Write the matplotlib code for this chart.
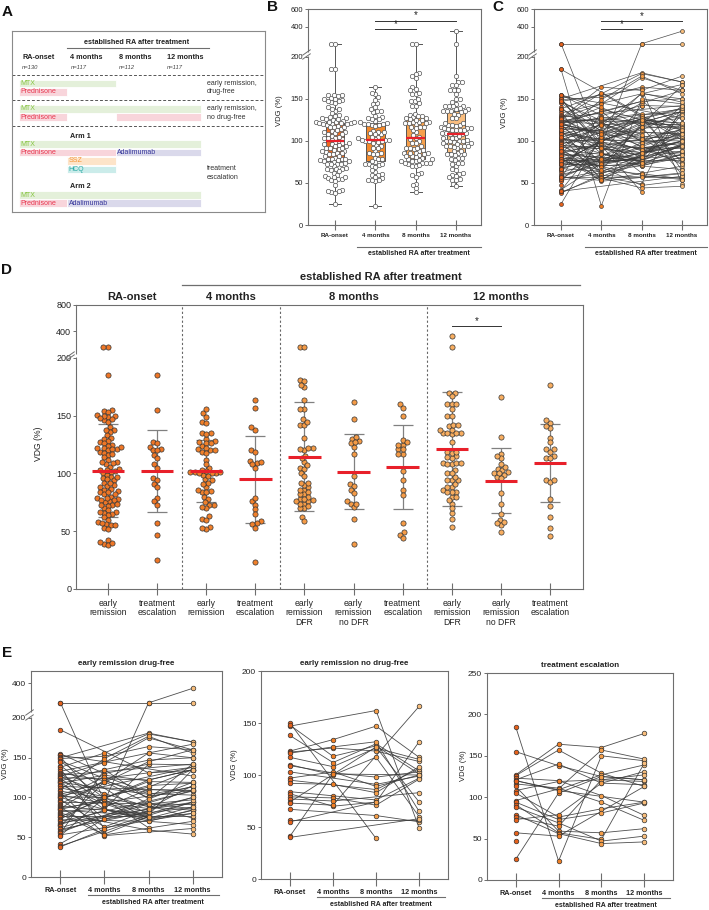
import numpy as np
import matplotlib
matplotlib.use("Agg")
import matplotlib.pyplot as plt

plt.rcParams['font.family'] = ['Liberation Sans', 'DejaVu Sans']
nan = np.nan
W, H = 709, 910

TIMES = ["RA-onset", "4 months", "8 months", "12 months"]
N_AT = ["n=130", "n=117", "n=112", "n=117"]

# VDG (%) per patient (same index = same patient), nan = not measured
# early remission, drug-free (DFR)
DFR_T0 = [270, 270, 185, 155, 154, 153, 151, 150, 149, 146, 145, 140, 138, 136, 133, 131, 130, 128, 127, 126,
          125, 124, 122, 121, 120, 119, 118, 116, 114, 112, 110, 108, 106, 104, 103, 102, 101, 100, 99, 97,
          96, 94, 92, 90, 89, 88, 87, 86, 85, 84, 82, 80, 79, 78, 77, 76, 75, 73, 72, 70,
          68, 67, 66, 65, 64, 62, 60, 58, 56, 55, 53, 52, 42, 39, 38]
DFR_T4 = [95, nan, nan, 130, nan, 145, 88, nan, 152, 124, nan, 99, 156, 61, nan, 121, 94, nan, 144, 105,
          nan, 85, nan, 135, 73, nan, 128, 92, nan, 101, 149, nan, 54, 119, nan, nan, 100, nan, 126, 63,
          nan, nan, 120, nan, 84, 52, nan, 122, 98, nan, 86, nan, 53, nan, nan, nan, nan, 101, nan, nan,
          nan, nan, 84, nan, 120, nan, nan, nan, nan, 135, nan, 100, 73, nan, 60]
DFR_T8 = [270, 270, 131, 142, nan, nan, 110, 181, 164, nan, 78, 120, 180, nan, 156, 105, 86, nan, 175, 88,
          122, 142, nan, 147, nan, 104, 121, 74, nan, 113, 177, 90, 76, 145, 82, nan, 115, 70, 107, 84,
          nan, nan, 92, nan, 80, nan, nan, 100, 62, 77, 72, 59, nan, nan, nan, 122, nan, nan, 70, nan,
          nan, nan, 78, nan, 156, nan, 82, 92, nan, 98, nan, 74, 86, 76, nan]
DFR_T12 = [360, 270, 134, 141, nan, 127, 109, 170, 160, 138, nan, 119, 170, 94, 167, 103, 115, 142, 160, 84,
           135, nan, nan, 150, 88, 113, nan, 80, 108, 135, 156, 74, nan, 160, nan, 138, 118, 66, nan, 100,
           nan, 91, 86, nan, 94, 61, 109, 114, nan, nan, 84, 54, 70, nan, 77, 135, nan, nan, 84, 108,
           94, nan, 135, nan, 150, 109, nan, 97, 119, 142, 80, 88, 100, nan, nan]

# early remission, no drug-free remission
NODFR_T0 = [147, 150, 148, 138, 123, 122, 121, 117, 110, 109, 103, 97, 95, 92, 84, 82, 79, 77, 74, 73,
            67, 57, 55, 41, 40]
NODFR_T4 = [nan, nan, 118, 112, 134, 126, 127, 108, 100, 102, nan, 103, nan, 91, 80, 70, 78, 75, nan, 71,
            nan, nan, nan, 101, nan]
NODFR_T8 = [162, 39, 128, 130, 147, 123, 132, 126, 117, 98, 91, 89, 86, 83, 76, 74, 71, nan, 127, nan,
            61, nan, 74, nan, nan]
NODFR_T12 = [49, nan, 101, 104, 117, 113, 65, 115, 60, 103, 99, 100, 106, 108, 97, 132, 96, 83, 74, 166,
             55, 57, nan, 100, 58]

# treatment escalation
ESC_T0 = [185, 155, 127, 126, 123, 121, 120, 116, 113, 108, 105, 96, 94, 91, 88, 79, 76, 73, 57, 47, 25, 120]
ESC_T4 = [23, 138, 164, 157, 120, 140, 109, 111, 59, 119, 76, 110, 73, 57, 69, 56, 65, 79, 53, nan, 105, 108]
ESC_T8 = [150, 125, 160, 129, 102, 117, 127, 94, 57, 121, 86, 157, 81, 49, 47, 44, 121, 117, nan, nan, 125, nan]
ESC_T12 = [144, 121, 177, 113, 78, 131, 139, 72, 62, 127, 94, 146, 93, 141, 53, 46, 119, 115, 113, nan, 121, 94]

D_LABELS = ["early\nremission", "treatment\nescalation", "early\nremission", "treatment\nescalation",
            "early\nremission\nDFR", "early\nremission\nno DFR", "treatment\nescalation",
            "early\nremission\nDFR", "early\nremission\nno DFR", "treatment\nescalation"]

# panel A: treatment schedule (drug, start month, end month); 15 = end of follow-up
A_SECTIONS = [
    ("early remission,\ndrug-free", None, [[("MTX", 0, 8)], [("Prednisone", 0, 4)]]),
    ("early remission,\nno drug-free", None, [[("MTX", 0, 15)], [("Prednisone", 0, 4), ("", 8, 15)]]),
    ("treatment\nescalation", "Arm 1", [[("MTX", 0, 15)], [("Prednisone", 0, 8), ("Adalimumab", 8, 15)],
                                       [("SSZ", 4, 8)], [("HCQ", 4, 8)]]),
    (None, "Arm 2", [[("MTX", 0, 15)], [("Prednisone", 0, 4), ("Adalimumab", 4, 15)]]),
]
DRUG_COL = {"MTX": ("#e4f0da", "#86c440"), "Prednisone": ("#f8d5db", "#e8354e"),
            "Adalimumab": ("#dad9eb", "#35359a"), "SSZ": ("#fde4c9", "#f3963a"),
            "HCQ": ("#cbecea", "#26a8a2")}

GREY = "#6e6e6e"
RED = "#e8202a"
PT_COL = ["#e6611b", "#f07f25", "#f59e49", "#f8bd7b"]
D_COL = ["#ee7626", "#f0802b", "#f49b47", "#f7ad60"]
BOX_COL = ["#ec6a20", "#f48a2c", "#f6a04b", "#f9bd7e"]

DFR = np.array([DFR_T0, DFR_T4, DFR_T8, DFR_T12], float).T
NODFR = np.array([NODFR_T0, NODFR_T4, NODFR_T8, NODFR_T12], float).T
ESC = np.array([ESC_T0, ESC_T4, ESC_T8, ESC_T12], float).T
ALL = np.vstack([DFR, NODFR, ESC])

fig = plt.figure(figsize=(W / 100, H / 100), dpi=100)


def px_axes(l, t, r, b):
    return fig.add_axes([l / W, 1 - b / H, (r - l) / W, (b - t) / H])


def broken(k):
    # linear up to 200, compressed log segment above the axis break
    def fwd(y):
        y = np.asarray(y, float)
        return np.where(y <= 200, y, 200 + k * np.log10(np.maximum(y, 200) / 200))

    def inv(u):
        u = np.asarray(u, float)
        return np.where(u <= 200, u, 200 * 10 ** ((np.maximum(u, 200) - 200) / k))
    return fwd, inv


def style(ax, yfs, xlen=7, xpad=2):
    for s in ax.spines.values():
        s.set_color(GREY)
        s.set_linewidth(0.8)
    ax.tick_params(axis='y', direction='out', length=2.5, width=0.7, color=GREY, labelsize=yfs, pad=1,
                   labelcolor="#222")
    ax.tick_params(axis='x', direction='inout', length=xlen, width=0.8, color=GREY, pad=xpad,
                   labelcolor="#222")


def add_break(ax, y0, y1):
    tr = ax.get_yaxis_transform()
    ax.plot([0, 0], [y0, y1], color='white', lw=2.5, transform=tr, clip_on=False, zorder=10,
            solid_capstyle='butt')
    ax.plot([-0.012, -0.012], [y0, y1], ls='none', marker=[(-1, -0.7), (1, 0.7)], ms=6, mfc='none',
            mec=GREY, mew=0.7, transform=tr, clip_on=False, zorder=11)


def swarm(ax, x0, vals, d):
    vals = np.asarray(vals, float)
    vals = vals[~np.isnan(vals)]
    ys = ax.transData.transform(np.column_stack([np.full(len(vals), x0), vals]))[:, 1]
    ppu = ax.transData.transform([(1, 0)])[0][0] - ax.transData.transform([(0, 0)])[0][0]
    placed, off = [], np.zeros(len(vals))
    for i in np.argsort(ys):
        bad = []
        for dx, py in placed:
            dy = abs(py - ys[i])
            if dy < d:
                h = np.sqrt(d * d - dy * dy)
                bad.append((dx - h, dx + h))
        cands = sorted([0.0] + [b for iv in bad for b in iv], key=lambda c: (abs(c), c))
        for c in cands:
            if all(not (lo + 1e-6 < c < hi - 1e-6) for lo, hi in bad):
                break
        placed.append((c, ys[i]))
        off[i] = c
    return x0 + off / ppu, vals


def underline(ax, x0, x1, yl, yt, fs):
    tr = ax.get_xaxis_transform()
    ax.plot([x0, x1], [yl, yl], color=GREY, lw=0.8, transform=tr, clip_on=False)
    ax.text((x0 + x1) / 2, yt, "established RA after treatment", transform=tr, ha='center', va='center',
            fontsize=fs, fontweight='bold', color="#222")


def sig(ax, x0, x1, y, fs=7):
    ax.plot([x0, x1], [y, y], color="#333", lw=0.7, clip_on=False)
    ax.annotate("*", ((x0 + x1) / 2, y), xytext=(0, 0), textcoords='offset points', ha='center',
                va='bottom', fontsize=fs, color="#222")


# ---------------- A: schedule ----------------
axA = px_axes(12, 31, 265, 212)
axA.set_xlim(-0.58, 20.33)
axA.set_ylim(212, 31)
axA.set_xticks([])
axA.set_yticks([])
for s in axA.spines.values():
    s.set_color("#8a8a8a")
    s.set_linewidth(0.8)
axA.text(9.75, 42, "established RA after treatment", ha='center', va='center', fontsize=5.2,
         fontweight='bold', color="#222")
axA.plot([4.0, 15.7], [48, 48], color=GREY, lw=0.8)
for m, lab, n in zip([0, 4, 8, 12], TIMES, N_AT):
    axA.text(m + 0.25, 57, lab, ha='left', va='center', fontsize=5.2, fontweight='bold', color="#222")
    axA.text(m + 0.25, 67, n, ha='left', va='center', fontsize=4.2, style='italic', color="#444")
for y in (75, 100, 126):
    axA.axhline(y, ls=(0, (3, 2)), color="#555", lw=0.7)
row_y = [[83.5, 91.8], [108.8, 117.2], [144.3, 152.5, 161.0, 169.5], [195.2, 203.3]]
side_y = [87.5, 113, 173, None]
arm_y = [None, None, 136, 187]
for (side, arm, rows), ys, sy, ay in zip(A_SECTIONS, row_y, side_y, arm_y):
    last = ""
    for segs, y in zip(rows, ys):
        for drug, a, b in segs:
            name = drug or last
            fc, tc = DRUG_COL[name]
            axA.barh(y, b - a, left=a, height=7.8, color=fc, edgecolor='white', lw=0.6)
            if drug:
                axA.text(a + 0.12, y, drug, ha='left', va='center', fontsize=5, color=tc)
            last = name
    if side:
        axA.text(15.55, sy, side, ha='left', va='center', fontsize=5, color="#333", linespacing=1.25)
    if arm:
        axA.text(4.25, ay, arm, ha='left', va='center', fontsize=5.2, fontweight='bold', color="#222")

# ---------------- B: box + swarm ----------------
axB = px_axes(308, 9, 481, 225)
fB, iB = broken(119)
axB.set_yscale('function', functions=(fB, iB))
axB.set_ylim(0, 600)
axB.set_xlim(-0.67, 3.62)
style(axB, 5.5)
for t in range(4):
    v = ALL[:, t]
    v = v[~np.isnan(v)]
    bp = axB.boxplot([v], positions=[t], widths=0.47, whis=(0, 100), showfliers=False, patch_artist=True,
                     capwidths=0.3, zorder=1, manage_ticks=False,
                     boxprops=dict(facecolor=BOX_COL[t], edgecolor="#555", lw=0.7),
                     whiskerprops=dict(color="#555", lw=0.7), capprops=dict(color="#555", lw=0.7),
                     medianprops=dict(color=RED, lw=1.6))
    for m in bp['medians']:
        m.set_zorder(4)
    xs, ys = swarm(axB, t, v, 3.9)
    axB.scatter(xs, ys, s=10, facecolor='white', edgecolor="#555", lw=0.5, zorder=3)
axB.set_yticks([0, 50, 100, 150, 200, 400, 600])
axB.set_xticks(range(4))
axB.set_xticklabels(TIMES, fontsize=4.5, fontweight='bold')
axB.set_xlim(-0.67, 3.62)
add_break(axB, 203, 222)
sig(axB, 1, 2, 375)
sig(axB, 1, 3, 460)
axB.set_ylabel("VDG (%)", fontsize=5.5, color="#222")
axB.yaxis.set_label_coords(-0.145, 0.53)
underline(axB, 0.55, 3.62, -0.102, -0.13, 5)

# ---------------- C: paired lines ----------------
axC = px_axes(534, 9, 707, 225)
axC.set_yscale('function', functions=(fB, iB))
axC.set_ylim(0, 600)
axC.set_xlim(-0.67, 3.62)
style(axC, 5.5)
axC.set_yticks([0, 50, 100, 150, 200, 400, 600])
axC.set_xticks(range(4))
axC.set_xticklabels(TIMES, fontsize=4.5, fontweight='bold')
for row in ALL:
    ok = ~np.isnan(row)
    axC.plot(np.arange(4)[ok], row[ok], color="#3a3a3a", lw=0.5, alpha=0.9, zorder=2)
for t in range(4):
    v = ALL[:, t]
    v = v[~np.isnan(v)]
    axC.scatter(np.full(len(v), t), v, s=8, facecolor=PT_COL[t], edgecolor="#333", lw=0.45, zorder=3)
add_break(axC, 203, 222)
sig(axC, 1, 2, 375)
sig(axC, 1, 3, 455)
axC.set_ylabel("VDG (%)", fontsize=5.5, color="#222")
axC.yaxis.set_label_coords(-0.15, 0.52)
underline(axC, 0.6, 3.62, -0.102, -0.13, 5)

# ---------------- D: groups per time point ----------------
axD = px_axes(76, 305, 583, 589)
fD, iD = broken(76.2)
axD.set_yscale('function', functions=(fD, iD))
axD.set_ylim(0, 800)
axD.set_xlim(-0.65, 9.67)
style(axD, 6.5, xlen=9, xpad=2.5)
axD.set_yticks([0, 50, 100, 150, 200, 400, 800])
axD.set_xticks(range(10))
axD.set_xticklabels(D_LABELS, fontsize=6.2, linespacing=1.1)
D_SETS = [(np.r_[DFR_T0, NODFR_T0], 0), (ESC_T0, 0), (np.r_[DFR_T4, NODFR_T4], 1), (ESC_T4, 1),
          (DFR_T8, 2), (NODFR_T8, 2), (ESC_T8, 2), (DFR_T12, 3), (NODFR_T12, 3), (ESC_T12, 3)]
for x, (vals, t) in enumerate(D_SETS):
    xs, ys = swarm(axD, x, vals, 4.5)
    m, sd = ys.mean(), ys.std(ddof=1)
    axD.errorbar(x, m, yerr=sd, fmt='none', ecolor="#808080", elinewidth=0.9, capsize=7, capthick=0.9,
                 zorder=2)
    axD.scatter(xs, ys, s=14, facecolor=D_COL[t], edgecolor="#333", lw=0.5, zorder=3)
    axD.plot([x - 0.33, x + 0.33], [m, m], color=RED, lw=2.2, zorder=4, solid_capstyle='butt')
for xv in (1.5, 3.5, 6.5):
    axD.axvline(xv, ls=(0, (2, 2)), color="#666", lw=0.8)
add_break(axD, 203, 222)
sig(axD, 7, 8, 462)
axD.set_ylabel("VDG (%)", fontsize=6.2, color="#222")
axD.yaxis.set_label_coords(-0.065, 0.51)
trD = axD.get_xaxis_transform()
for xc, lab in zip([0.5, 2.5, 5, 8], TIMES):
    axD.text(xc, 1.028, lab, transform=trD, ha='center', va='center', fontsize=8, fontweight='bold',
             color="#222")
axD.plot([1.5, 9.6], [1.07, 1.07], color=GREY, lw=0.9, transform=trD, clip_on=False)
axD.text(5.55, 1.1, "established RA after treatment", transform=trD, ha='center', va='center',
         fontsize=8, fontweight='bold', color="#222")

# ---------------- E: paired lines per outcome group ----------------
E_PANELS = [("early remission drug-free", DFR, (31, 671, 222, 877), 508, [0, 50, 100, 150, 200, 400], -0.115),
            ("early remission no drug-free", NODFR, (261, 671, 448, 879), 200, [0, 50, 100, 150, 200], -0.125),
            ("treatment escalation", ESC, (487, 673, 673, 880), 250, [0, 50, 100, 150, 200, 250], -0.11)]
for title, grp, box, top, ticks, ylx in E_PANELS:
    ax = px_axes(*box)
    if top > 300:
        fE, iE = broken(146)
        ax.set_yscale('function', functions=(fE, iE))
    ax.set_ylim(0, top)
    ax.set_xlim(-0.67, 3.67)
    style(ax, 6, xlen=9.5, xpad=2.5)
    ax.set_yticks(ticks)
    ax.set_xticks(range(4))
    ax.set_xticklabels(TIMES, fontsize=5.2, fontweight='bold')
    for row in grp:
        ok = ~np.isnan(row)
        ax.plot(np.arange(4)[ok], row[ok], color="#3a3a3a", lw=0.6, alpha=0.9, zorder=2)
    for t in range(4):
        v = grp[:, t]
        v = v[~np.isnan(v)]
        ax.scatter(np.full(len(v), t), v, s=11, facecolor=PT_COL[t], edgecolor="#333", lw=0.5, zorder=3)
    if top > 300:
        add_break(ax, 203, 225)
    ax.set_title(title, fontsize=5.8, fontweight='bold', color="#222", pad=4)
    ax.set_ylabel("VDG (%)", fontsize=5.5, color="#222")
    ax.yaxis.set_label_coords(ylx, 0.55)
    underline(ax, 0.62, 3.6, -0.088, -0.125, 5)

# panel letters
for x, y, s in [(7, 12, "A"), (273, 7, "B"), (498, 7, "C"), (7, 270, "D"), (7, 653, "E")]:
    fig.text(x / W, 1 - y / H, s, ha='center', va='center', fontsize=11, fontweight='bold', color="#111")

fig.savefig("out.png", dpi=100)
